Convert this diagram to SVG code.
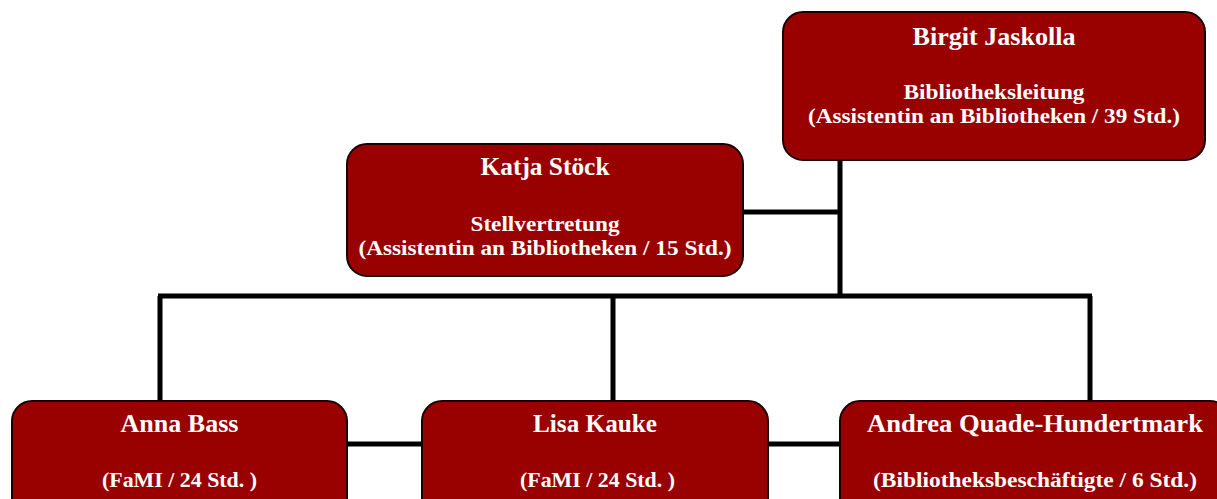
<svg xmlns="http://www.w3.org/2000/svg" width="1217" height="499" viewBox="0 0 1217 499">
<style>
.box{fill:#990000;stroke:#1a0000;stroke-width:2}
.t{font-family:"Liberation Serif","DejaVu Serif",serif;font-weight:bold;fill:#fff;text-anchor:middle}
.h{font-size:25px}
.s{font-size:21px}
.c{stroke:#000;stroke-width:5;fill:none}
</style>
<rect width="1217" height="499" fill="#fff"/>
<g id="connectors">
<line class="c" x1="840" y1="158" x2="840" y2="298"/>
<line class="c" x1="743" y1="212" x2="840" y2="212"/>
<line class="c" x1="158" y1="296" x2="1092" y2="296"/>
<line class="c" x1="160" y1="296" x2="160" y2="402"/>
<line class="c" x1="613" y1="296" x2="613" y2="402"/>
<line class="c" x1="1090" y1="296" x2="1090" y2="402"/>
<line class="c" x1="347" y1="444" x2="422" y2="444"/>
<line class="c" x1="768" y1="444" x2="840" y2="444"/>
</g>
<g id="birgit">
<rect class="box" x="783" y="12" width="422" height="148" rx="20"/>
<text class="t h" x="994" y="45" textLength="163" lengthAdjust="spacingAndGlyphs">Birgit Jaskolla</text>
<text class="t s" x="994" y="99" textLength="181" lengthAdjust="spacingAndGlyphs">Bibliotheksleitung</text>
<text class="t s" x="994" y="123" textLength="372" lengthAdjust="spacingAndGlyphs">(Assistentin an Bibliotheken / 39 Std.)</text>
</g>
<g id="katja">
<rect class="box" x="347" y="144" width="396" height="132" rx="20"/>
<text class="t h" x="545" y="175" textLength="129" lengthAdjust="spacingAndGlyphs">Katja Stöck</text>
<text class="t s" x="545" y="231" textLength="149" lengthAdjust="spacingAndGlyphs">Stellvertretung</text>
<text class="t s" x="545" y="255" textLength="373" lengthAdjust="spacingAndGlyphs">(Assistentin an Bibliotheken / 15 Std.)</text>
</g>
<g id="anna">
<rect class="box" x="12" y="401" width="335" height="130" rx="20"/>
<text class="t h" x="179.5" y="432" textLength="118" lengthAdjust="spacingAndGlyphs">Anna Bass</text>
<text class="t s" x="179.5" y="487" textLength="155" lengthAdjust="spacingAndGlyphs">(FaMI / 24 Std. )</text>
</g>
<g id="lisa">
<rect class="box" x="422" y="401" width="346" height="130" rx="20"/>
<text class="t h" x="595" y="432" textLength="124" lengthAdjust="spacingAndGlyphs">Lisa Kauke</text>
<text class="t s" x="597.5" y="487" textLength="155" lengthAdjust="spacingAndGlyphs">(FaMI / 24 Std. )</text>
</g>
<g id="andrea">
<rect class="box" x="840" y="401" width="390" height="130" rx="20"/>
<text class="t h" x="1035" y="432" textLength="336" lengthAdjust="spacingAndGlyphs">Andrea Quade-Hundertmark</text>
<text class="t s" x="1035" y="487" textLength="324" lengthAdjust="spacingAndGlyphs">(Bibliotheksbeschäftigte / 6 Std.)</text>
</g>
</svg>
